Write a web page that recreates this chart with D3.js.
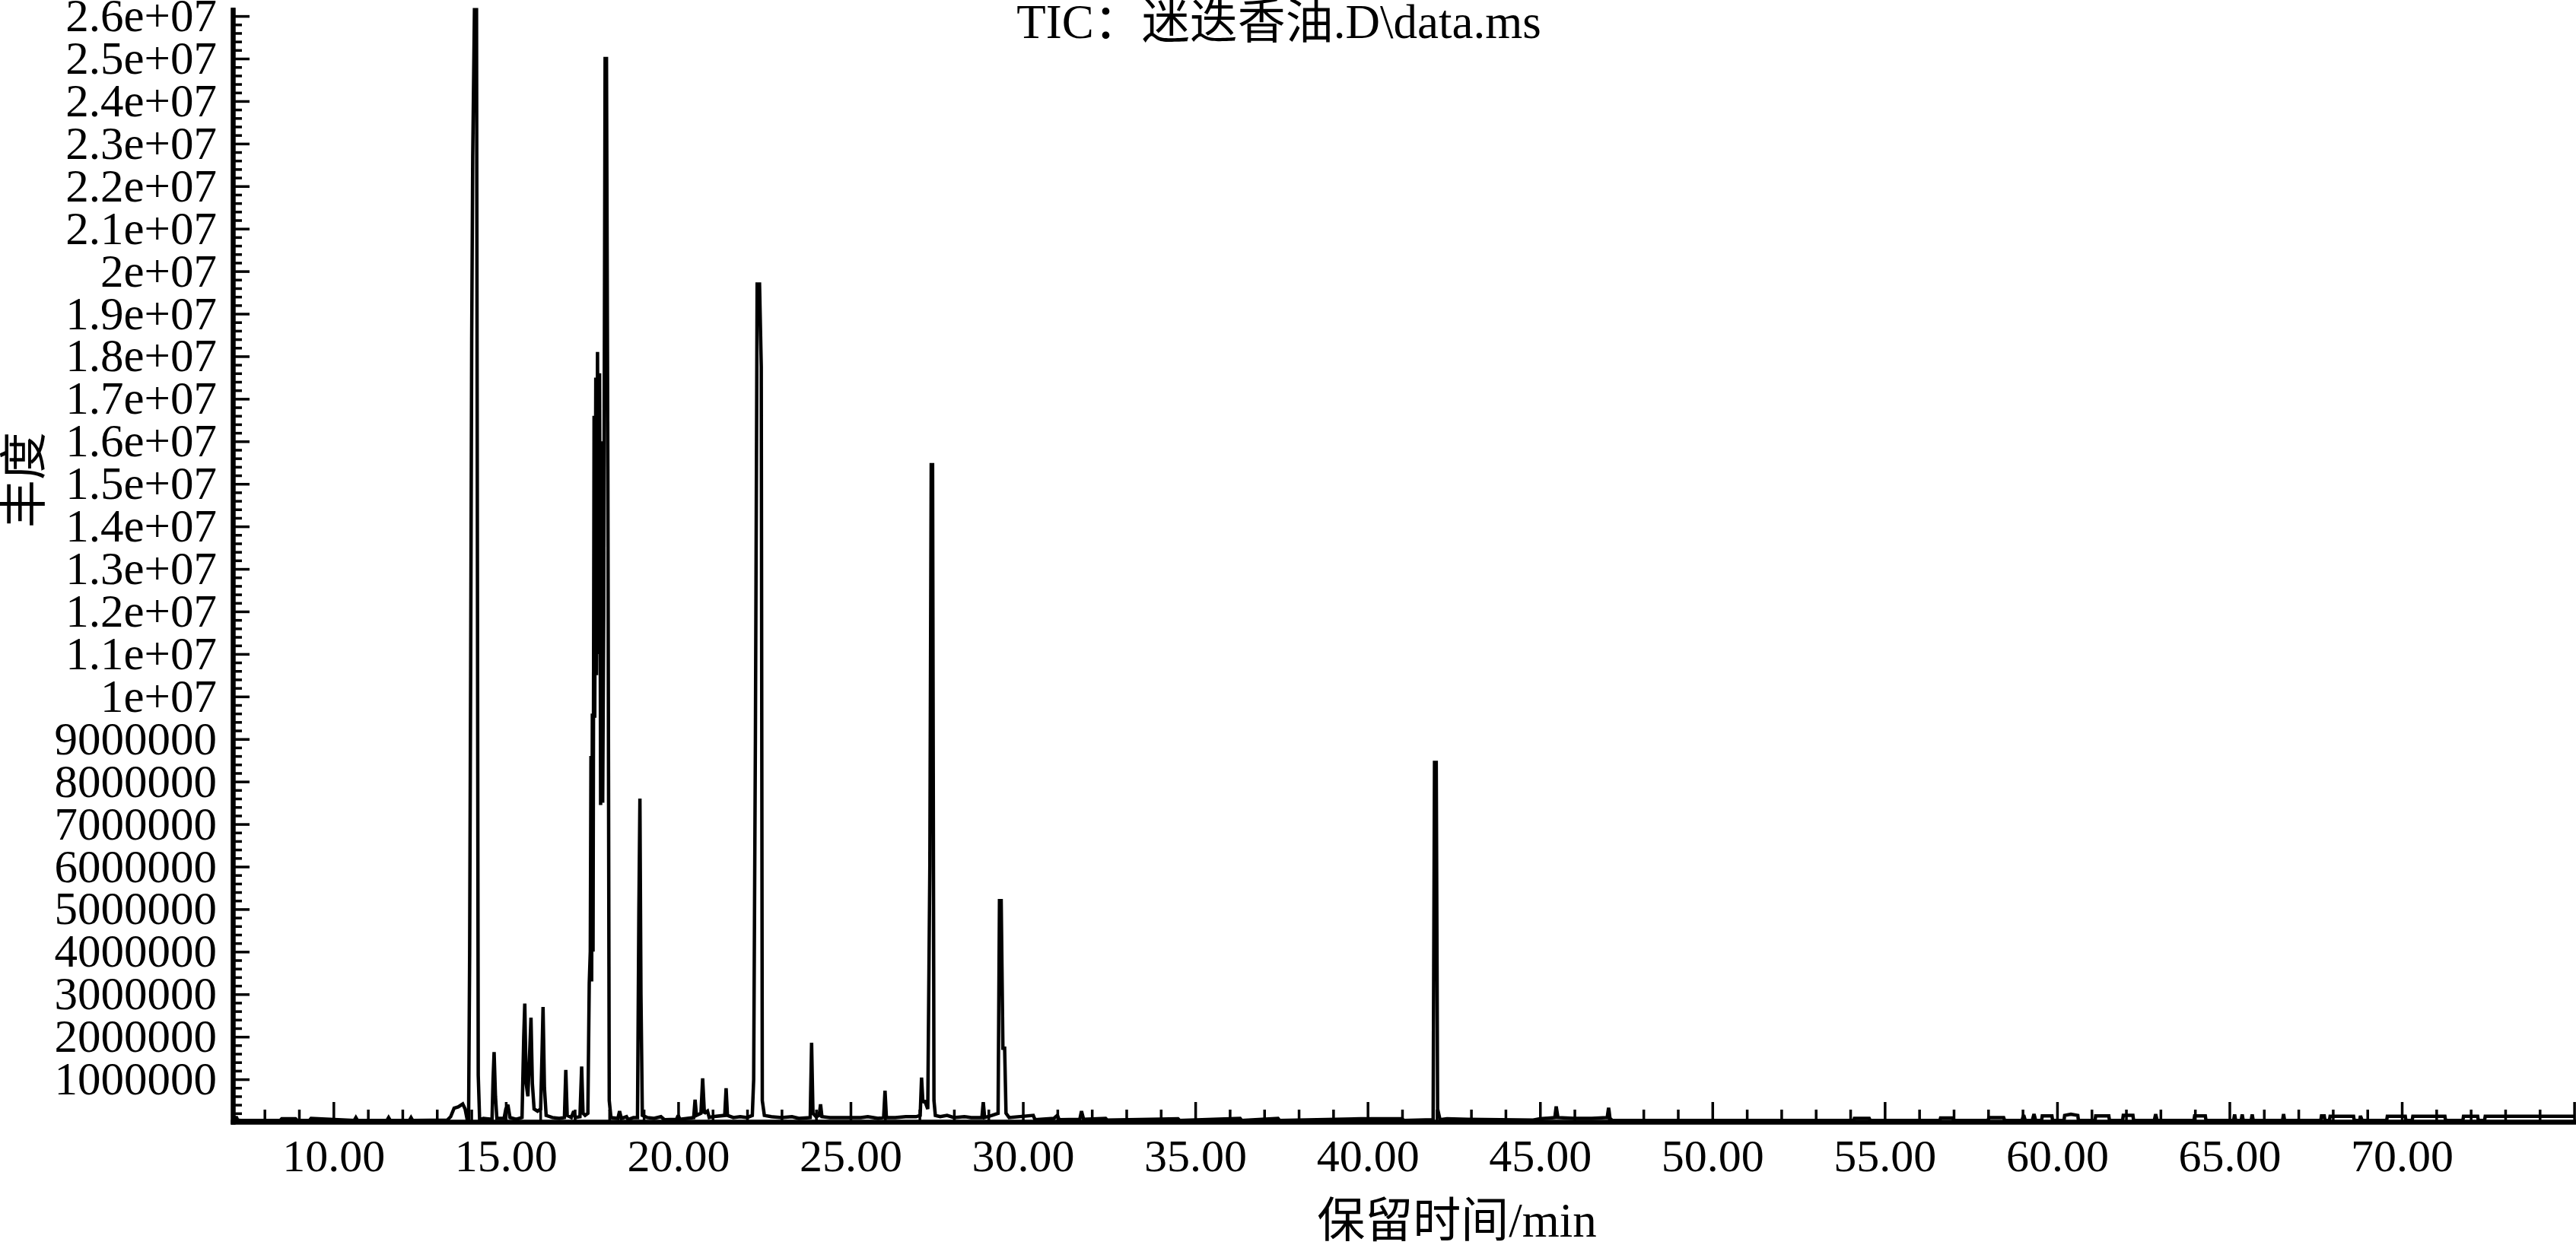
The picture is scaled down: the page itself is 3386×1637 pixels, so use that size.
<!DOCTYPE html>
<html>
<head>
<meta charset="utf-8">
<script src="https://cdn.jsdelivr.net/npm/d3@7"></script>
<style>
  html, body { margin: 0; padding: 0; background: #fff; }
  svg { display: block; }
</style>
</head>
<body>
<svg id="chart" width="3386" height="1637"></svg>
<script>
// ---------------- DATA ----------------
const chartTitle = "TIC：迷迭香油.D\\data.ms";
const xAxisTitle = "保留时间/min";
const yAxisTitle = "丰度";

// x-axis (retention time, min)
const xMajorTicks = [10, 15, 20, 25, 30, 35, 40, 45, 50, 55, 60, 65, 70, 75];
const xTickLabels = ["10.00", "15.00", "20.00", "25.00", "30.00", "35.00", "40.00",
                     "45.00", "50.00", "55.00", "60.00", "65.00", "70.00", ""];

// y-axis (abundance)
const yMajorTicks = [1e6, 2e6, 3e6, 4e6, 5e6, 6e6, 7e6, 8e6, 9e6, 1e7, 1.1e7, 1.2e7, 1.3e7,
                     1.4e7, 1.5e7, 1.6e7, 1.7e7, 1.8e7, 1.9e7, 2e7, 2.1e7, 2.2e7, 2.3e7,
                     2.4e7, 2.5e7, 2.6e7];
const yTickLabels = ["1000000", "2000000", "3000000", "4000000", "5000000", "6000000",
                     "7000000", "8000000", "9000000", "1e+07", "1.1e+07", "1.2e+07",
                     "1.3e+07", "1.4e+07", "1.5e+07", "1.6e+07", "1.7e+07", "1.8e+07",
                     "1.9e+07", "2e+07", "2.1e+07", "2.2e+07", "2.3e+07", "2.4e+07",
                     "2.5e+07", "2.6e+07"];

// TIC trace: retention time (min) and abundance (millions)
const traceTime = [
  7.08, 7.12, 7.18, 7.22, 7.3, 8.45, 8.5, 8.9, 8.95, 9.3, 9.35, 10.6, 10.65, 10.7,
  11.55, 11.6, 11.65, 12.2, 12.25, 12.3, 13.3, 13.4, 13.5, 13.62, 13.75, 13.82, 13.88,
  13.92, 13.95, 13.98, 14.01, 14.04, 14.09, 14.15, 14.2, 14.24,
  14.35, 14.6, 14.63, 14.66, 14.7, 14.74, 14.95, 15.0, 15.06, 15.12, 15.3,
  15.47, 15.52, 15.55, 15.59, 15.64, 15.69, 15.73, 15.77, 15.82, 15.92, 16.01, 16.05,
  16.08, 16.12, 16.17, 16.35, 16.55,
  16.7, 16.74, 16.78, 16.9, 16.97, 17.02, 17.15, 17.2, 17.24, 17.3,
  17.38, 17.42, 17.45, 17.47, 17.49, 17.51, 17.53, 17.56, 17.58, 17.61, 17.63, 17.66,
  17.69, 17.72, 17.75, 17.78, 17.81, 17.84, 17.88, 17.92, 17.96, 18.0, 18.05,
  18.25, 18.3, 18.35, 18.5, 18.55, 18.7, 18.82, 18.86, 18.89, 18.92, 18.96, 19.1, 19.3,
  19.5, 19.6, 19.95, 20.0, 20.05,
  20.45, 20.49, 20.53, 20.66, 20.71, 20.76, 20.85, 20.9, 21.0, 21.35, 21.39, 21.43,
  21.6, 21.8, 22.0,
  22.15, 22.19, 22.24, 22.29, 22.36, 22.41, 22.44, 22.5,
  22.7, 23.0, 23.3, 23.5, 23.83, 23.87, 23.91, 24.0, 24.09, 24.13, 24.17, 24.4, 24.7,
  25.3, 25.5, 25.8,
  25.96, 26.0, 26.04, 26.3, 26.6, 26.9, 27.02, 27.06, 27.1, 27.15, 27.24, 27.3, 27.34,
  27.38, 27.42, 27.46,
  27.6, 27.8, 28.0, 28.3, 28.5, 28.81, 28.85, 28.89, 29.1, 29.28, 29.32, 29.37, 29.42,
  29.47, 29.51, 29.6,
  30.3, 30.35, 30.9, 31.0, 31.05, 31.65, 31.7, 31.76, 32.4, 32.45, 34.5, 34.55, 36.3,
  36.35, 37.4, 37.45, 39.8, 41.0, 41.05,
  41.9, 41.94, 41.99, 42.03, 42.1,
  42.3, 42.9, 44.8, 45.0, 45.43, 45.47, 45.52, 46.0, 46.5, 46.95, 46.99, 47.03, 47.1,
  54.1, 54.12, 54.55, 54.58, 56.6, 56.62, 56.97, 57.0, 58.0, 58.02, 58.45, 58.48,
  58.98, 59.03, 59.08, 59.28, 59.33, 59.38, 59.55, 59.57, 59.85, 59.87,
  60.2, 60.22, 60.4, 60.6, 60.62, 61.1, 61.12, 61.5, 61.52, 61.9, 61.92, 62.2, 62.22,
  62.82, 62.86, 62.9, 63.97, 63.99, 64.3, 64.32, 65.12, 65.15, 65.18, 65.34, 65.37,
  65.4, 65.63, 65.66, 65.69, 66.54, 66.57, 66.6, 67.65, 67.67, 67.75, 67.77, 67.9,
  67.92, 68.6, 68.62, 68.78, 68.8, 68.85, 69.56, 69.58, 70.1, 70.12, 70.3, 70.32,
  71.25, 71.27, 71.77, 71.79, 72.2, 72.22, 72.4, 72.42, 75.0
];
const traceAbundanceM = [
  0.18, 0.05, 0.12, 0.04, 0.03, 0.03, 0.07, 0.07, 0.03, 0.03, 0.08, 0.03, 0.1, 0.03,
  0.03, 0.1, 0.03, 0.03, 0.1, 0.03, 0.04, 0.12, 0.32, 0.35, 0.42, 0.3, 0.05,
  0.05, 3.9, 10.6, 18.4, 22.7, 26.15, 26.15, 1.1, 0.05,
  0.08, 0.06, 1.0, 1.64, 0.6, 0.08, 0.08, 0.3, 0.4, 0.1, 0.06,
  0.1, 2.0, 2.78, 0.9, 0.6, 1.6, 2.45, 0.9, 0.3, 0.25, 0.3, 1.6,
  2.7, 0.8, 0.15, 0.1, 0.08,
  0.1, 1.22, 0.15, 0.1, 0.25, 0.1, 0.12, 1.3, 0.2, 0.15,
  0.2, 3.25, 4.0, 8.6, 3.3, 9.6, 4.0, 16.6, 9.5, 17.5, 10.5, 18.1,
  11.0, 17.6, 7.45, 16.0, 7.5, 12.0, 25.0, 25.0, 15.4, 0.5, 0.1,
  0.08, 0.25, 0.08, 0.12, 0.05, 0.1, 0.1, 5.0, 7.6, 3.0, 0.15, 0.1, 0.08,
  0.12, 0.05, 0.06, 0.15, 0.06,
  0.1, 0.52, 0.15, 0.2, 1.02, 0.2, 0.25, 0.1, 0.12, 0.15, 0.79, 0.15,
  0.1, 0.12, 0.1,
  0.15, 1.0, 9.0, 19.7, 19.7, 17.75, 0.5, 0.15,
  0.12, 0.1, 0.12, 0.08, 0.1, 1.86, 0.2, 0.12, 0.15, 0.41, 0.12, 0.1, 0.1,
  0.1, 0.12, 0.08,
  0.1, 0.73, 0.1, 0.1, 0.12, 0.12, 0.15, 1.04, 0.45, 0.5, 0.3, 6.0, 15.45,
  15.45, 0.5, 0.15,
  0.12, 0.15, 0.1, 0.12, 0.1, 0.1, 0.46, 0.1, 0.15, 0.2, 5.2, 5.2, 1.73,
  1.73, 0.2, 0.1,
  0.15, 0.05, 0.08, 0.15, 0.05, 0.06, 0.25, 0.06, 0.08, 0.04, 0.07, 0.03, 0.08,
  0.03, 0.08, 0.03, 0.07, 0.07, 0.03,
  0.05, 8.45, 8.45, 0.3, 0.05,
  0.07, 0.06, 0.04, 0.07, 0.1, 0.36, 0.1, 0.08, 0.08, 0.1, 0.33, 0.08, 0.03,
  0.03, 0.08, 0.08, 0.03, 0.03, 0.09, 0.09, 0.03, 0.03, 0.1, 0.1, 0.03,
  0.03, 0.16, 0.03, 0.03, 0.18, 0.03, 0.03, 0.14, 0.14, 0.03,
  0.03, 0.15, 0.18, 0.15, 0.03, 0.03, 0.14, 0.14, 0.03, 0.03, 0.15, 0.15, 0.03,
  0.03, 0.18, 0.03, 0.03, 0.14, 0.14, 0.03, 0.03, 0.17, 0.03, 0.03, 0.17,
  0.03, 0.03, 0.17, 0.03, 0.03, 0.18, 0.03, 0.03, 0.14, 0.14, 0.03, 0.03,
  0.13, 0.13, 0.03, 0.03, 0.14, 0.03, 0.03, 0.13, 0.13, 0.03, 0.03, 0.13,
  0.13, 0.03, 0.03, 0.13, 0.13, 0.03, 0.03, 0.13, 0.13
];

// ---------------- DRAWING ----------------
const svg = d3.select("#chart");
const FONT = "'Liberation Serif', 'Times New Roman', 'Noto Sans CJK SC', serif";

const x = d3.scaleLinear().domain([7.08, 75]).range([306, 3383.6]);
const y = d3.scaleLinear().domain([0, 26.15e6]).range([1475, 12.7]);

const xMinorTicks = d3.range(8, 75).filter(v => v % 5 !== 0);
const yMinorTicks = d3.range(1, 131).map(i => i * 0.2e6).filter((v, i) => (i + 1) % 5 !== 0);

// trace
const points = traceTime.map((t, i) => [t, traceAbundanceM[i] * 1e6]);
svg.append("path")
  .datum(points)
  .attr("fill", "none")
  .attr("stroke", "#000")
  .attr("stroke-width", 4.5)
  .attr("stroke-linejoin", "miter")
  .attr("stroke-miterlimit", 2)
  .attr("d", d3.line().x(d => x(d[0])).y(d => y(d[1])));

function styleAxis(g, size) {
  g.attr("font-family", FONT).attr("font-size", size);
  g.selectAll(".tick line").attr("stroke", "#000").attr("stroke-width", 3.5);
  g.selectAll(".tick text").attr("fill", "#000");
  g.select(".domain").attr("stroke", "#000").attr("stroke-width", 6).attr("stroke-linecap", "square");
}

// y axis minor ticks
svg.append("g")
  .attr("transform", "translate(306,0)")
  .call(d3.axisLeft(y).tickValues(yMinorTicks).tickSize(-12).tickSizeOuter(0).tickFormat(""))
  .call(g => styleAxis(g, 60));
// y axis major ticks + labels
svg.append("g")
  .attr("transform", "translate(306,0)")
  .call(d3.axisLeft(y).tickValues(yMajorTicks).tickSize(-22).tickSizeOuter(0).tickPadding(21)
    .tickFormat((d, i) => yTickLabels[i]))
  .call(g => styleAxis(g, 61));

// x axis minor ticks
svg.append("g")
  .attr("transform", "translate(0,1475)")
  .call(d3.axisBottom(x).tickValues(xMinorTicks).tickSize(-16).tickSizeOuter(0).tickFormat(""))
  .call(g => styleAxis(g, 60));
// x axis major ticks + labels
svg.append("g")
  .attr("transform", "translate(0,1475)")
  .call(d3.axisBottom(x).tickValues(xMajorTicks).tickSize(-26).tickSizeOuter(0).tickPadding(22)
    .tickFormat((d, i) => xTickLabels[i]))
  .call(g => styleAxis(g, 60));

// titles
svg.append("text")
  .attr("x", 1681).attr("y", 50)
  .attr("text-anchor", "middle")
  .attr("font-family", FONT).attr("font-size", 63).attr("fill", "#000")
  .text(chartTitle);

svg.append("text")
  .attr("x", 1915).attr("y", 1605)
  .attr("text-anchor", "middle").attr("dominant-baseline", "central")
  .attr("font-family", FONT).attr("font-size", 63).attr("fill", "#000")
  .text(xAxisTitle);

svg.append("text")
  .attr("transform", "translate(32,631) rotate(-90)")
  .attr("text-anchor", "middle").attr("dominant-baseline", "central")
  .attr("font-family", FONT).attr("font-size", 63).attr("fill", "#000")
  .text(yAxisTitle);
</script>
</body>
</html>
